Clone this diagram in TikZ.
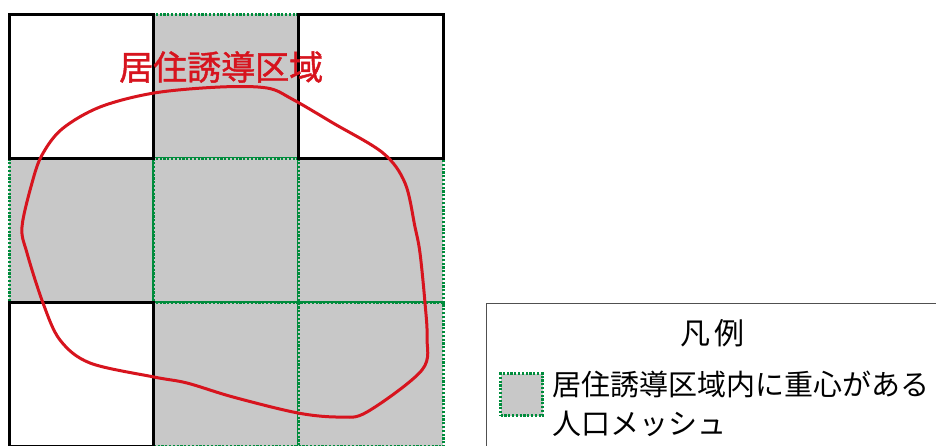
\documentclass[tikz,border=0pt]{standalone}
\usepackage{fontspec}
\newfontfamily\cjk{Noto Sans CJK JP}
\newfontfamily\cjkheavy[FakeBold=1.2]{Noto Sans CJK JP}
\definecolor{cellgray}{RGB}{200,200,200}
\definecolor{meshgreen}{RGB}{0,140,60}
\definecolor{zonered}{RGB}{215,20,30}
\tikzset{
  meshcell/.style={fill=cellgray, draw=meshgreen, line width=3pt, dash pattern=on 2.2pt off 1.6pt},
  whitecell/.style={fill=white, draw=black, line width=3pt},
  legendtext/.style={font=\cjk\fontsize{29}{31}\selectfont, inner sep=0pt, anchor=west},
}
\begin{document}
\begin{tikzpicture}[x=1pt,y=-1pt]
\useasboundingbox (0,0) rectangle (936,445);
\clip (0,0) rectangle (936,445);
% gray mesh cells
\foreach \c/\r in {1/0, 0/1, 1/1, 2/1, 1/2, 2/2}{
  \path[meshcell] ({9+144.7*\c},{14+144.3*\r}) rectangle ({9+144.7*(\c+1)},{14+144.3*(\r+1)});
}
% white cells
\foreach \c/\r in {0/0, 2/0, 0/2}{
  \path[whitecell] ({9+144.7*\c},{14+144.3*\r}) rectangle ({9+144.7*(\c+1)},{14+144.3*(\r+1)});
}
% red zone
\draw[zonered, line width=3pt] plot[smooth cycle, tension=0.55] coordinates {
 (220,87) (267,88) (292,99) (333,123) (383,153) (405,183) (415,227) (420,253)
 (425,303) (427,337) (422,370) (367,412) (340,417) (298,413) (233,397) (187,383)
 (154,377) (90,363) (60,340) (43,303) (27,253) (22,227) (32,183) (42,155)
 (62,129) (100,107) (154,93)};
\node[font=\cjkheavy\fontsize{34}{36}\selectfont, text=zonered, inner sep=0pt, anchor=west] (zonelabel) at (119,67) {居住誘導区域};
% legend
\node[draw={rgb,255:red,80;green,80;blue,80}, line width=1.3pt, fill=white, minimum width=480pt, minimum height=160pt, anchor=north west, inner sep=0pt] (legend) at (486,303) {};
\node[font=\cjk\fontsize{30}{32}\selectfont, inner sep=0pt] (legtitle) at (712,333) {凡\hspace{4pt}例};
\node[meshcell, minimum width=42pt, minimum height=42pt, anchor=north west, inner sep=0pt] (swatch) at (499,372) {};
\node[legendtext] (item1) at (552,384) {居住誘導区域内に重心がある};
\node[legendtext] (item2) at (552,424) {人口メッシュ};
\end{tikzpicture}
\end{document}
